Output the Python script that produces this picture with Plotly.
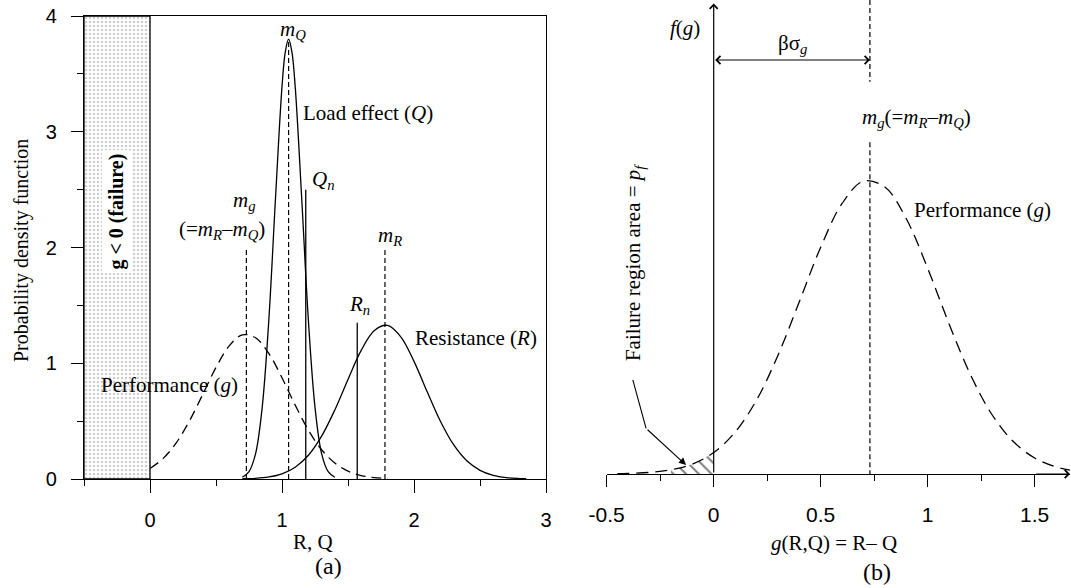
import numpy as np
import plotly.graph_objects as go

# ---------------- data ----------------
# Load effect Q (solid, narrow)
q_x = [0.70, 0.75, 0.80, 0.85, 0.90, 0.95, 1.00, 1.025, 1.05, 1.075, 1.10, 1.15, 1.20, 1.25, 1.30, 1.35, 1.40]
q_y = [0.015, 0.064, 0.22, 0.62, 1.37, 2.41, 3.39, 3.69, 3.80, 3.69, 3.39, 2.41, 1.37, 0.62, 0.22, 0.064, 0.015]
# Resistance R (solid)
r_x = [0.70, 0.80, 0.90, 1.00, 1.10, 1.20, 1.30, 1.40, 1.50, 1.60, 1.70, 1.80, 1.90, 2.00,
       2.10, 2.20, 2.30, 2.40, 2.50, 2.60, 2.70, 2.80, 2.85]
r_y = [0.002, 0.006, 0.018, 0.045, 0.102, 0.205, 0.370, 0.596, 0.860, 1.111, 1.283, 1.327, 1.228, 1.016,
       0.753, 0.499, 0.296, 0.157, 0.075, 0.032, 0.012, 0.004, 0.002]
# Performance g (dashed)
g_x = [-0.45, -0.40, -0.30, -0.20, -0.10, 0.00, 0.10, 0.20, 0.30, 0.40, 0.50, 0.60, 0.70, 0.80,
       0.90, 1.00, 1.10, 1.20, 1.30, 1.40, 1.50, 1.60, 1.70, 1.80]
g_y = [0.0013, 0.0024, 0.0068, 0.018, 0.042, 0.091, 0.178, 0.314, 0.504, 0.732, 0.964, 1.150, 1.245, 1.220,
       1.085, 0.874, 0.638, 0.422, 0.253, 0.138, 0.068, 0.030, 0.012, 0.0045]

# reference lines in panel (a): name, x, height, style
ref_names = ["m_g", "m_Q", "Q_n", "R_n", "m_R"]
ref_x = [0.73, 1.05, 1.18, 1.57, 1.78]
ref_top = [2.0, 3.8, 2.5, 1.35, 2.0]
ref_dashed = [True, True, False, False, True]

m_g = 0.73          # mean of g (panel b)
fail_from = -0.2    # left end of hatched failure area

ticks_a_x = [0, 1, 2, 3]
ticks_a_y = [0, 1, 2, 3, 4]
ticks_b_x = [-0.5, 0, 0.5, 1, 1.5]
ticks_b_lab = ["-0.5", "0", "0.5", "1", "1.5"]

# ---------------- styling ----------------
SERIF = "Liberation Serif"
SANS = "Liberation Sans"
BLACK = "black"
LW = 1.3
W, H = 1071, 588

fig = go.Figure()

gx = np.array(g_x)
gy = np.array(g_y)

# ---- panel (a) ----
# stippled failure region g < 0
fig.add_trace(go.Scatter(
    x=[-0.5, 0, 0, -0.5, -0.5], y=[0, 0, 4, 4, 0], mode="lines", fill="toself",
    fillcolor="rgba(255,255,255,0)",
    fillpattern=dict(shape=".", fgcolor="#9a9a9a", bgcolor="white", size=4, solidity=0.3),
    line=dict(color=BLACK, width=LW), xaxis="x", yaxis="y", hoverinfo="skip"))

mask = gx >= 0
fig.add_trace(go.Scatter(x=gx[mask], y=gy[mask], mode="lines", line=dict(color=BLACK, width=LW, dash="10px,6px", shape="spline"),
                         xaxis="x", yaxis="y"))
fig.add_trace(go.Scatter(x=q_x, y=q_y, mode="lines", line=dict(color=BLACK, width=LW, shape="spline"),
                         xaxis="x", yaxis="y"))
fig.add_trace(go.Scatter(x=r_x, y=r_y, mode="lines", line=dict(color=BLACK, width=LW, shape="spline"),
                         xaxis="x", yaxis="y"))
for nm, xv, top, dsh in zip(ref_names, ref_x, ref_top, ref_dashed):
    fig.add_trace(go.Scatter(x=[xv, xv], y=[0, top], mode="lines",
                             line=dict(color=BLACK, width=1.2 if dsh else LW, dash="5px,3px" if dsh else "solid"),
                             xaxis="x", yaxis="y"))

# ---- panel (b) ----
hmask = (gx >= fail_from) & (gx <= 0)
fig.add_trace(go.Scatter(x=gx[hmask], y=gy[hmask], mode="lines", fill="tozeroy",
                         fillcolor="rgba(0,0,0,0)",
                         fillpattern=dict(shape="\\", fgcolor=BLACK, bgcolor="rgba(0,0,0,0)", size=9, solidity=0.22),
                         line=dict(width=0, shape="spline"), xaxis="x2", yaxis="y2"))
fig.add_trace(go.Scatter(x=gx, y=gy, mode="lines", line=dict(color=BLACK, width=LW, dash="12px,7px", shape="spline"),
                         xaxis="x2", yaxis="y2"))
fig.add_trace(go.Scatter(x=[m_g, m_g, None, m_g, m_g], y=[2.015, 1.667, None, 1.41, 0], mode="lines",
                         line=dict(color=BLACK, width=1.2, dash="5px,3px"), xaxis="x2", yaxis="y2"))
# first leg of the failure pointer
fig.add_trace(go.Scatter(x=[-0.378, -0.316], y=[0.40, 0.194], mode="lines",
                         line=dict(color=BLACK, width=1.1), xaxis="x2", yaxis="y2"))

axis_common = dict(showgrid=False, zeroline=False, showline=True, linecolor=BLACK, linewidth=LW,
                   ticks="outside", tickcolor=BLACK, tickwidth=LW, automargin=False)

fig.update_layout(
    width=W, height=H, autosize=False, margin=dict(l=0, r=0, t=0, b=0, pad=0),
    paper_bgcolor="white", plot_bgcolor="white", showlegend=False,
    xaxis=dict(domain=[84 / W, 546 / W], range=[-0.5, 3], tickvals=ticks_a_x, ticktext=[str(t) for t in ticks_a_x],
               ticklen=13, mirror=True, anchor="y", ticklabelstandoff=10,
               tickfont=dict(family=SANS, size=20, color=BLACK),
               minor=dict(dtick=0.5, tick0=-0.5, ticklen=6, ticks="outside", tickcolor=BLACK, tickwidth=LW),
               **axis_common),
    yaxis=dict(domain=[(H - 479) / H, (H - 16) / H], range=[0, 4], tickvals=ticks_a_y, ticktext=[str(t) for t in ticks_a_y],
               ticklen=12, mirror=True, anchor="x", ticklabelstandoff=10,
               tickfont=dict(family=SANS, size=20, color=BLACK),
               minor=dict(dtick=0.5, tick0=0, ticklen=6, ticks="outside", tickcolor=BLACK, tickwidth=LW),
               **axis_common),
    xaxis2=dict(domain=[606.7 / W, 1070 / W], range=[-0.5, 1.665], tickvals=ticks_b_x, ticktext=ticks_b_lab,
                ticklen=12, anchor="y2", ticklabelstandoff=10,
                tickfont=dict(family=SANS, size=21, color=BLACK),
                minor=dict(dtick=0.25, tick0=-0.5, ticklen=6, ticks="outside", tickcolor=BLACK, tickwidth=LW),
                **axis_common),
    yaxis2=dict(domain=[(H - 474) / H, 1.0], range=[0, 2.015], visible=False, anchor="x2", automargin=False),
)

def txt(text, x, y, xref="x", yref="y", size=21, angle=0, xanchor="center", yanchor="middle", family=SERIF, **kw):
    fig.add_annotation(text=text, x=x, y=y, xref=xref, yref=yref, showarrow=False, textangle=angle,
                       xanchor=xanchor, yanchor=yanchor, font=dict(family=family, size=size, color=BLACK), **kw)

# panel (a) labels
txt("<b>g &lt; 0 (failure)</b>", -0.25, 2.31, size=20, angle=-90, bgcolor="white", borderpad=3)
txt("<i>m<sub>Q</sub></i>", 1.08, 3.88)
txt("Load effect (<i>Q</i>)", 1.146, 3.16, xanchor="left")
txt("<i>Q<sub>n</sub></i>", 1.21, 2.58, xanchor="left")
txt("<i>m<sub>g</sub></i>", 0.714, 2.40)
txt("(=<i>m<sub>R</sub></i>–<i>m<sub>Q</sub></i>)", 0.545, 2.15)
txt("<i>m<sub>R</sub></i>", 1.82, 2.10)
txt("<i>R<sub>n</sub></i>", 1.585, 1.50)
txt("Resistance (<i>R</i>)", 1.99, 1.22, xanchor="left")
txt("Performance (<i>g</i>)", -0.385, 0.81, xanchor="left")

# panel (b) labels
txt("<i>f</i>(<i>g</i>)", -0.134, 1.896, xref="x2", yref="y2")
txt("βσ<sub><i>g</i></sub>", 0.37, 1.83, xref="x2", yref="y2")
txt("<i>m<sub>g</sub></i>(=<i>m<sub>R</sub></i>–<i>m<sub>Q</sub></i>)", 0.95, 1.514, xref="x2", yref="y2")
txt("Performance (<i>g</i>)", 0.925, 1.122, xref="x2", yref="y2", xanchor="left")
txt("Failure region area = <i>p<sub>f</sub></i>", -0.372, 0.897, xref="x2", yref="y2", angle=-90)

# axis titles and captions (paper coords)
txt("Probability density function", 22 / W, 1 - 251 / H, xref="paper", yref="paper", angle=-90, size=20)
txt("R, Q", 313 / W, 1 - 542 / H, xref="paper", yref="paper")
txt("(a)", 328 / W, 1 - 566 / H, xref="paper", yref="paper", size=24)
txt("<i>g</i>(R,Q) = R– Q", 833.7 / W, 1 - 542.7 / H, xref="paper", yref="paper")
txt("(b)", 876.7 / W, 1 - 572 / H, xref="paper", yref="paper", size=24)

def arrow(x, y, ax, ay, head=4, both=False, width=1.2):
    fig.add_annotation(text="", x=x, y=y, ax=ax, ay=ay, xref="x2", yref="y2", axref="x2", ayref="y2",
                       showarrow=True, arrowhead=head, arrowsize=1.3, arrowwidth=width, arrowcolor=BLACK,
                       arrowside="end+start" if both else "end", startarrowhead=head, startarrowsize=1.3)

arrow(0, 2.0, 0, 0)                     # vertical f(g) axis
arrow(1.665, 0, 1.5, 0)                 # x axis arrow head
arrow(m_g, 1.76, 0, 1.76, both=True)    # beta sigma_g
arrow(-0.129, 0.038, -0.316, 0.194, head=2, width=1.1)  # failure pointer

fig.write_html("out.html", config={"displayModeBar": False},
               post_script="document.body.style.margin='0';document.body.style.overflow='hidden';")
